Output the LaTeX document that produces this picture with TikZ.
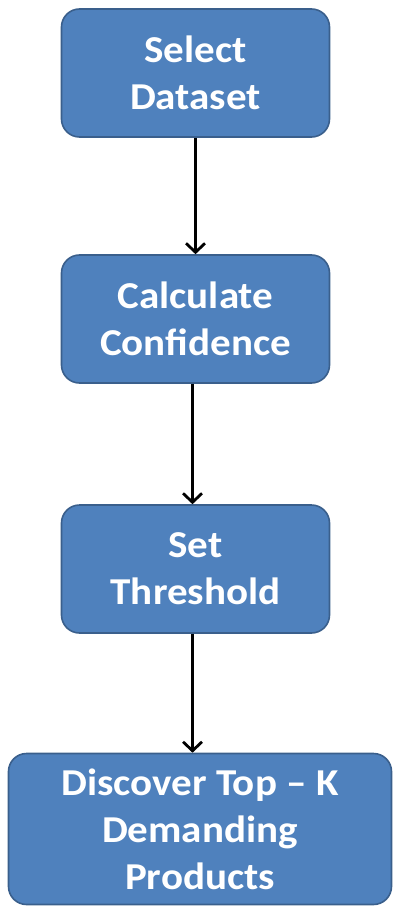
\documentclass[tikz,border=0pt]{standalone}
\usepackage{fontspec}
\setmainfont{Carlito}[FakeStretch=1.08]
\usetikzlibrary{arrows.meta}
\definecolor{boxfill}{HTML}{4F81BD}
\definecolor{boxline}{HTML}{3A5F8C}
\begin{document}
\begin{tikzpicture}[x=1pt,y=1pt,node distance=246pt,
  every node/.style={inner sep=1pt}]
\tikzstyle{stepbox}=[draw=boxline,line width=1.6pt,fill=boxfill,rounded corners=18pt,
  text=white,font=\fontsize{38}{47}\selectfont\bfseries,align=center,
  minimum width=268pt,minimum height=128pt]
\tikzstyle{arrow}=[draw,black,line width=2.8pt,-{Straight Barb[length=9pt,width=19pt,line width=2.8pt]}]
\useasboundingbox (0,0) rectangle (393,-909);
\node[stepbox] at (195.5,-73)(b1){Select\\Dataset};
\node[stepbox,below of=b1](b2){Calculate\\Confidence};
\node[stepbox,below of=b2,node distance=250pt](b3){Set\\Threshold};
\node[stepbox,minimum width=383pt,minimum height=151pt] at (200,-829)(b4){Discover Top -- K\\Demanding\\Products};

\path[arrow](b1.south)--(b2.north);
\path[arrow]([xshift=-3pt]b2.south)--([xshift=-3pt]b3.north);
\path[arrow]([xshift=-3pt]b3.south)--([xshift=-3pt]b3.south |- b4.north);
\end{tikzpicture}
\end{document}
